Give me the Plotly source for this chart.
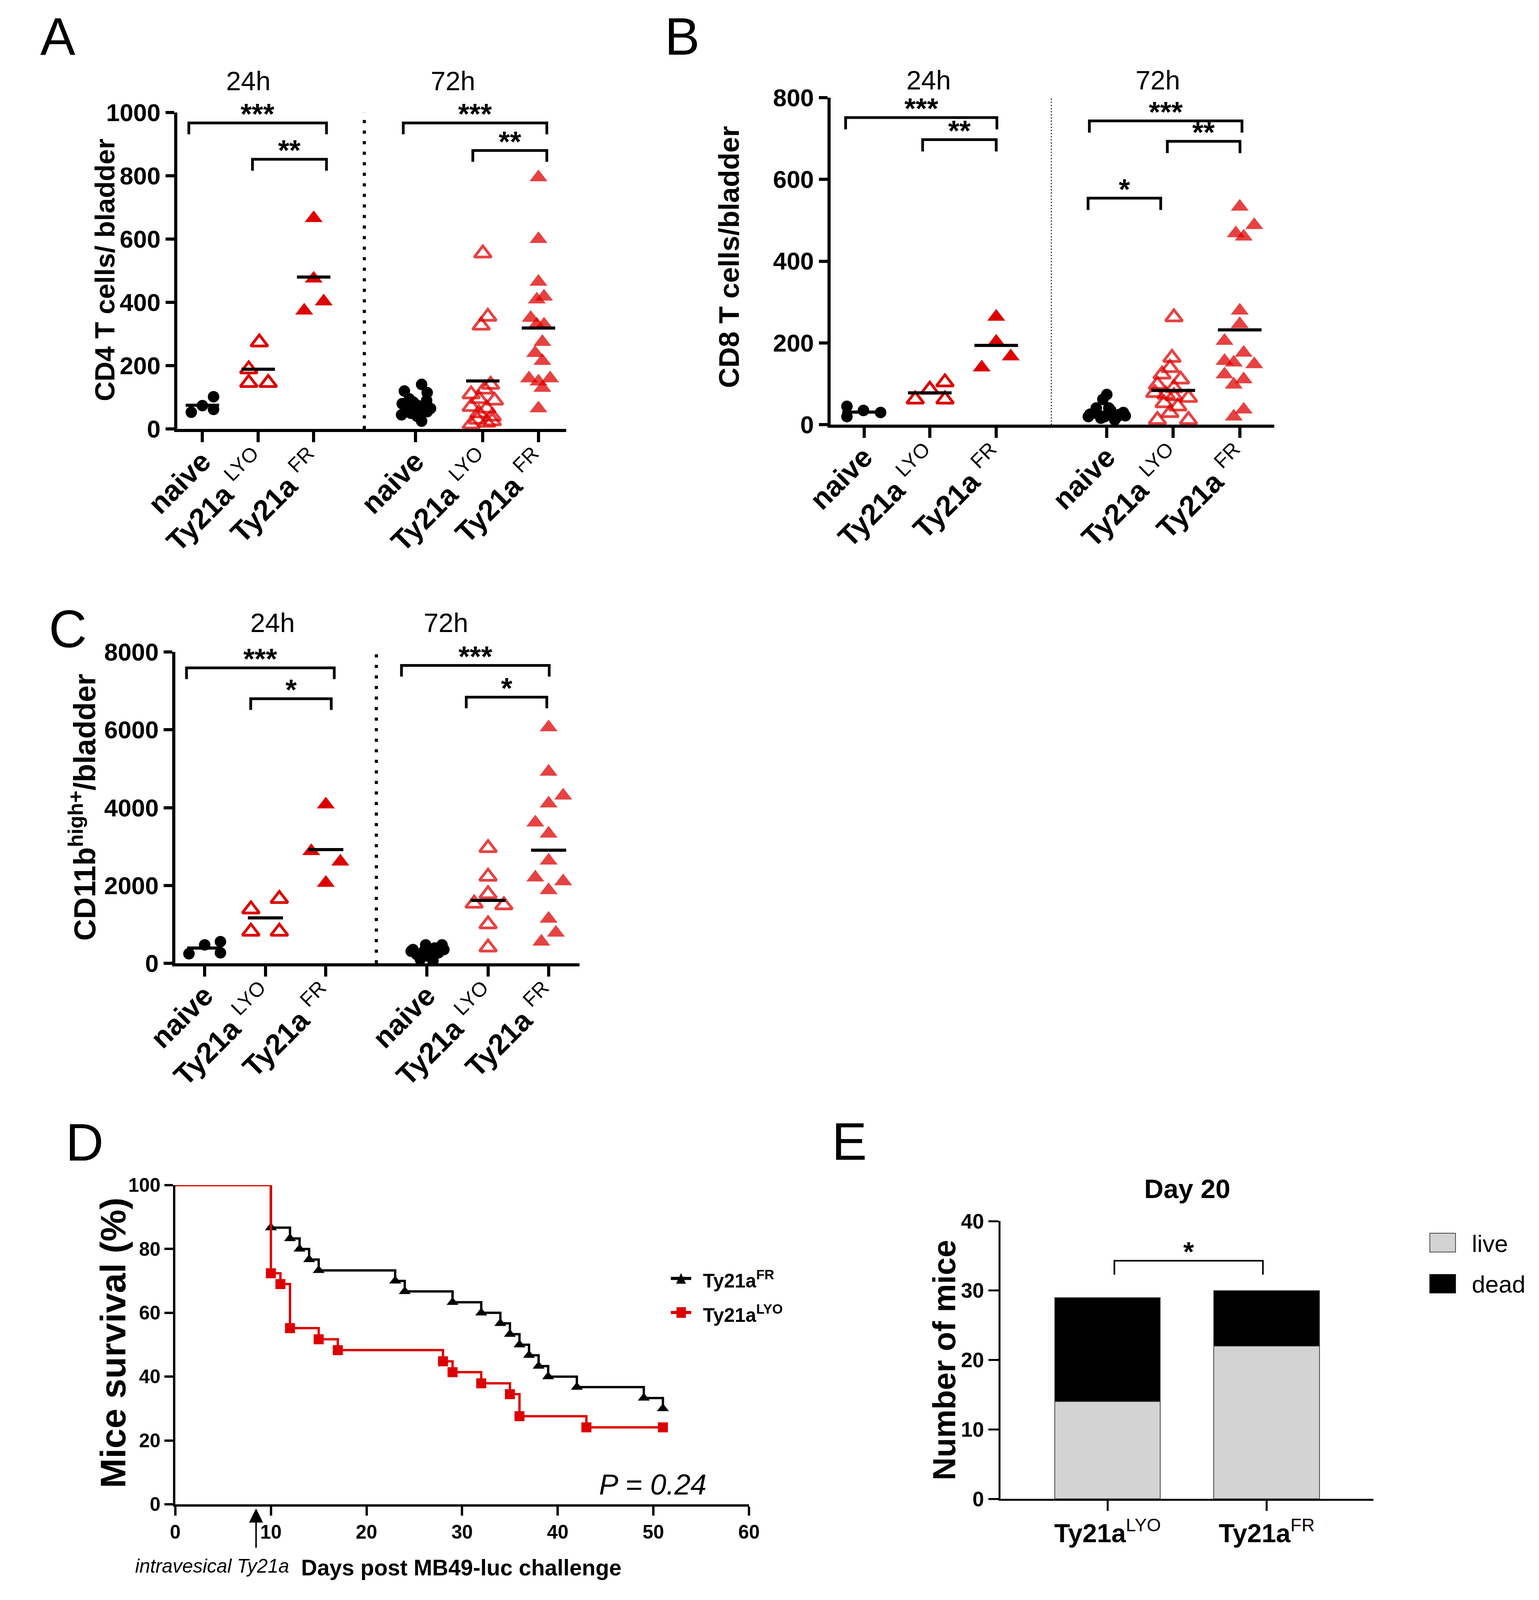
"""Ty21a bladder infiltrate figure, panels A-E.

A-C: dot plots (mean bar + significance brackets) at 24h and 72h,
D: Kaplan-Meier survival, E: live/dead stacked bars at day 20.
Positions are read in reference pixels (3941 x 4404) and turned into paper
fractions; the page itself is sized to fit the 3941 x 4096 viewport it is shot in.
"""

import plotly.graph_objects as go

W, H = 3941, 4404            # reference canvas, used for placing things
FIG_W, FIG_H = 3925, 4080    # actual figure (viewport minus body margin)
SY = FIG_H / H               # vertical pixel lengths
K = 0.95                     # fonts / marker sizes
FONT = "Liberation Sans, Arial, Helvetica, sans-serif"
RED = "#dd0000"
RED_72 = "rgba(221,0,0,0.74)"

# group order in each dot panel: 24h naive, LYO, FR | 72h naive, LYO, FR
DOT_TICKTEXT = ["<b>naive</b>", "<b>Ty21a</b> <sup>LYO</sup>", "<b>Ty21a</b> <sup>FR</sup>"] * 2
TIMEPOINTS = ["24h", "72h"]

# ---- A: CD4 T cells / bladder
A_VALUES = [
    [53, 74, 102, 62],
    [274, 189, 146, 146],
    [666, 475, 374, 403],
    [141, 120, 115, 95, 90, 80, 75, 70, 60, 55, 50, 45, 40, 25, 85, 65],
    [555, 355, 327, 140, 125, 110, 95, 90, 70, 65, 50, 40, 30, 20, 15, 25],
    [795, 600, 465, 418, 409, 351, 330, 330, 275, 240, 215, 160, 160, 150, 130, 65],
]
A_JITTER = [
    [-0.2, 0, 0.2, 0.2],
    [0.02, -0.17, -0.17, 0.18],
    [0, 0, -0.17, 0.18],
    [0.11, -0.2, 0.21, -0.11, 0.2, -0.24, 0.03, 0.13, -0.15, 0.21, -0.08, -0.25, 0.03, 0.11, -0.04, 0.27],
    [0, 0.09, -0.03, 0.14, 0.03, -0.21, -0.07, 0.21, -0.21, 0.07, -0.07, 0.17, -0.1, 0.07, -0.21, 0.17],
    [0, 0, 0, 0.1, -0.03, -0.14, -0.03, 0.1, 0.07, -0.06, 0.07, -0.17, 0.21, 0, 0.07, 0],
]
A_MEANS = [75, 189, 480, 72, 152, 319]
A_SIG = [(0.756, 3.23, 967, "***"), (1.90, 3.23, 852, "**"),
         (4.61, 7.19, 967, "***"), (5.86, 7.19, 880, "**")]

# ---- B: CD8 T cells / bladder
B_VALUES = [
    [45, 20, 35, 30],
    [62, 86, 104, 62],
    [264, 203, 140, 167],
    [74, 62, 41, 29, 25, 22, 20, 16, 12, 35, 41, 30, 20, 26, 20],
    [263, 164, 139, 123, 111, 98, 90, 74, 66, 53, 45, 29, 12, 12, 70, 78],
    [533, 488, 468, 460, 279, 246, 205, 156, 176, 152, 148, 123, 111, 98, 37, 20],
]
B_JITTER = [
    [-0.26, -0.26, -0.01, 0.25],
    [-0.22, 0, 0.23, 0.23],
    [0, 0, -0.22, 0.22],
    [0, -0.06, 0.03, -0.19, 0.19, 0.28, -0.28, -0.09, 0.12, 0.06, -0.16, 0.25, -0.03, -0.25, 0.16],
    [0.01, -0.02, -0.05, -0.17, 0.11, -0.24, 0.01, -0.11, 0.23, -0.14, 0.07, -0.05, -0.24, 0.23, 0.01, -0.28],
    [0, 0.22, -0.06, 0.06, 0, 0, -0.23, -0.23, 0.06, -0.09, 0.22, -0.23, 0.06, -0.09, 0.06, -0.09],
]
B_MEANS = [31, 78, 194, 31, 84, 232]
B_SIG = [(0.72, 3.01, 751, "***"), (1.886, 3.0, 697, "**"),
         (4.41, 6.72, 743, "***"), (5.59, 6.69, 693, "**"), (4.39, 5.49, 554, "*")]

# ---- C: CD11b high+ / bladder
C_VALUES = [
    [245, 473, 555, 269],
    [1388, 1657, 816, 816],
    [4082, 2882, 2612, 2065],
    [351, 473, 392, 473, 228, 188, 269, 106, 65, 351, 310, 310],
    [2963, 2229, 1780, 1535, 1494, 1004, 408],
    [6065, 4922, 4310, 4106, 3616, 3330, 2637, 2204, 2106, 1878, 1143, 784, 555],
]
C_JITTER = [
    [-0.26, 0, 0.26, 0.26],
    [-0.24, 0.23, -0.24, 0.23],
    [0, -0.24, 0.24, 0],
    [-0.23, -0.02, 0.13, 0.25, -0.17, 0.01, 0.19, -0.11, 0.1, 0.28, -0.05, -0.26],
    [0, 0, 0, -0.23, 0.26, 0, 0],
    [0, 0, 0.24, 0, -0.22, 0, 0, -0.22, 0.24, 0, 0, 0.12, -0.12],
]
C_MEANS = [392, 1167, 2922, 327, 1616, 2906]
C_SIG = [(0.70, 3.14, 7592, "***"), (1.76, 3.09, 6800, "*"),
         (4.25, 6.69, 7657, "***"), (5.32, 6.65, 6841, "*")]

# ---- D: survival after MB49-luc challenge
D_FR_DAYS = [10, 12, 13, 14, 15, 23, 24, 29, 32, 34, 35, 36, 37, 38, 39, 42, 49, 51]
D_FR_SURV = [86.7, 83.3, 80.0, 76.7, 73.3, 70.0, 66.7, 63.3, 60.0, 56.7, 53.3,
             50.0, 46.7, 43.3, 40.0, 36.7, 33.3, 30.0]
D_LYO_DAYS = [10, 11, 12, 15, 17, 28, 29, 32, 35, 36, 43, 51]
D_LYO_SURV = [72.4, 69.0, 55.2, 51.7, 48.3, 44.8, 41.4, 37.9, 34.5, 27.6, 24.1, 24.1]
D_TREATMENT_DAY = 8.45
D_PVALUE = "P = 0.24"

# ---- E: day 20 outcome
E_GROUPS = ["<b>Ty21a</b><sup>LYO</sup>", "<b>Ty21a</b><sup>FR</sup>"]
E_LIVE = [14, 22]
E_DEAD = [15, 8]
E_SIG = [(0.043, 0.976, 34.3, "*")]


def fx(px):
    return px / W


def fy(py):
    return 1 - py / H


def fs(size):
    return round(size * K, 1)


def names(i):
    s = "" if i == 1 else str(i)
    return "x" + s, "y" + s, "xaxis" + s, "yaxis" + s


fig = go.Figure()
layout_axes = {}
shapes = []
annotations = []


def text_px(text, x, y, size, xanchor="center", yanchor="middle", angle=0, k=K):
    annotations.append(dict(
        text=text, x=fx(x), y=fy(y), xref="paper", yref="paper", showarrow=False,
        xanchor=xanchor, yanchor=yanchor, textangle=angle,
        font=dict(family=FONT, size=round(size * k, 1), color="black"),
    ))


def ytitle(text, x, y, size):
    # rotated titles run along the squeezed vertical axis
    text_px(text, x, y, size, angle=-90, k=SY)


def brackets(xa, ya, sig, ymax, width, star_size, star_shift):
    drop = 0.036 * ymax
    for x0, x1, yv, stars in sig:
        shapes.append(dict(
            type="path", xref=xa, yref=ya,
            path=f"M{x0},{yv - drop} L{x0},{yv} L{x1},{yv} L{x1},{yv - drop}",
            line=dict(color="black", width=width),
        ))
        annotations.append(dict(
            text=f"<b>{stars}</b>", x=(x0 + x1) / 2, y=yv, xref=xa, yref=ya,
            showarrow=False, yanchor="bottom", yshift=star_shift * SY,
            font=dict(family=FONT, size=fs(star_size), color="black"),
        ))


def group_style(g):
    col = RED if g < 3 else RED_72
    if g % 3 == 0:
        return dict(symbol="circle", size=fs(31), color="black", line=dict(width=0))
    if g % 3 == 1:
        return dict(symbol="triangle-up-open", size=fs(40), color=col, line=dict(width=7, color=col))
    return dict(symbol="triangle-up", size=fs(42), color=col, line=dict(width=0))


def dot_panel(i, box, xrange, pos, ymax, ydtick, values, jitter, means, half, sig,
              sep, sep_dash, sep_width):
    xa, ya, xkey, ykey = names(i)
    left, right, top, bottom = box
    for g, (vals, jit) in enumerate(zip(values, jitter)):
        fig.add_trace(go.Scatter(
            x=[pos[g] + j for j in jit], y=vals, mode="markers",
            marker=group_style(g), xaxis=xa, yaxis=ya, cliponaxis=False, hoverinfo="skip",
        ))
    mx, my = [], []
    for p, m in zip(pos, means):
        mx += [p - half, p + half, None]
        my += [m, m, None]
    fig.add_trace(go.Scatter(x=mx, y=my, mode="lines", line=dict(color="black", width=8),
                             xaxis=xa, yaxis=ya, cliponaxis=False, hoverinfo="skip"))
    shapes.append(dict(type="line", xref=xa, yref=ya, x0=sep, x1=sep, y0=0, y1=ymax,
                       line=dict(color="black", width=sep_width, dash=sep_dash)))
    brackets(xa, ya, sig, ymax, 7, 78, -22)
    layout_axes[xkey] = dict(
        domain=[fx(left), fx(right)], range=xrange, anchor=ya,
        showline=True, linecolor="black", linewidth=8,
        ticks="outside", ticklen=28 * SY, tickwidth=8, tickcolor="black",
        tickvals=pos, ticktext=DOT_TICKTEXT, tickangle=-45, ticklabelstandoff=-24,
        tickfont=dict(family=FONT, size=fs(78), color="black"),
        showgrid=False, zeroline=False,
    )
    layout_axes[ykey] = dict(
        domain=[fy(bottom), fy(top)], range=[0, ymax], anchor=xa,
        showline=True, linecolor="black", linewidth=8,
        ticks="outside", ticklen=22, tickwidth=8, tickcolor="black",
        tick0=0, dtick=ydtick,
        tickfont=dict(family=FONT, size=fs(66), color="black", weight="bold"),
        showgrid=False, zeroline=False,
    )


# A
dot_panel(1, (369, 1400, 269, 1159), [0.546, 7.54], [1, 2.003, 3, 4.83, 6.04, 7.04],
          1000, 200, A_VALUES, A_JITTER, A_MEANS, 0.30, A_SIG, 3.91, "8px,19px", 8)
# B
dot_panel(2, (2100, 3276, 227, 1147), [0.491, 7.21], [1, 1.994, 3, 4.674, 5.68, 6.686],
          800, 200, B_VALUES, B_JITTER, B_MEANS, 0.33, B_SIG, 3.834, "3px,5px", 2.5)
# C
dot_panel(3, (364, 1435, 1786, 2661), [0.514, 7.19], [1, 2.003, 3, 4.67, 5.68, 6.68],
          8000, 2000, C_VALUES, C_JITTER, C_MEANS, 0.29, C_SIG, 3.835, "8px,19px", 8)

for (x24, x72, yy) in [(558, 1100, 180), (2360, 2967, 178), (622, 1081, 1703)]:
    text_px(TIMEPOINTS[0], x24, yy, 72)
    text_px(TIMEPOINTS[1], x72, yy, 72)

ytitle("<b>CD4 T cells/ bladder</b>", 177, 712, 76)
ytitle("<b>CD8 T cells/bladder</b>", 1831, 675, 78)
ytitle("<b>CD11b<sup>high+</sup>/bladder</b>", 118, 2223, 83)

# D: Kaplan-Meier curves
for days, surv, col, sym, msize in [
    (D_FR_DAYS, D_FR_SURV, "black", "triangle-up", 28),
    (D_LYO_DAYS, D_LYO_SURV, RED, "square", 27),
]:
    fig.add_trace(go.Scatter(
        x=[0] + days, y=[100] + surv, mode="lines", line=dict(color=col, width=6, shape="hv"),
        xaxis="x4", yaxis="y4", cliponaxis=False, hoverinfo="skip",
    ))
    fig.add_trace(go.Scatter(
        x=days, y=surv, mode="markers", marker=dict(symbol=sym, size=fs(msize), color=col),
        xaxis="x4", yaxis="y4", cliponaxis=False, hoverinfo="skip",
    ))

layout_axes["xaxis4"] = dict(
    domain=[fx(364), fx(1884)], range=[0, 60], anchor="y4",
    showline=True, linecolor="black", linewidth=6,
    ticks="outside", ticklen=25 * SY, tickwidth=6, tickcolor="black", tick0=0, dtick=10,
    tickfont=dict(family=FONT, size=fs(52), color="black", weight="bold"),
    showgrid=False, zeroline=False,
)
layout_axes["yaxis4"] = dict(
    domain=[fy(4182), fy(3285)], range=[0, 100], anchor="x4",
    showline=True, linecolor="black", linewidth=6,
    ticks="outside", ticklen=22, tickwidth=6, tickcolor="black", tick0=0, dtick=20,
    tickfont=dict(family=FONT, size=fs(52), color="black", weight="bold"),
    showgrid=False, zeroline=False,
)
ytitle("<b>Mice survival (%)</b>", 199, 3728, 99)
text_px("<b>Days post MB49-luc challenge</b>", 1122, 4360, 60)
text_px("<i>intravesical Ty21a</i>", 461, 4355, 52)
text_px(f"<i>{D_PVALUE}</i>", 1629, 4127, 78)
annotations.append(dict(
    text="", x=D_TREATMENT_DAY, y=fy(4194), xref="x4", yref="paper",
    showarrow=True, ax=0, ay=110 * SY, arrowhead=2, arrowsize=1.8, arrowwidth=4, arrowcolor="black",
))

# D legend (drawn by hand so the glyphs keep the reference size)
for ycen, col, glyph in [(3547, "black", "tri"), (3643, RED, "sq")]:
    shapes.append(dict(type="line", xref="paper", yref="paper", x0=fx(1677), x1=fx(1731),
                       y0=fy(ycen), y1=fy(ycen), line=dict(color=col, width=8)))
    if glyph == "tri":
        shapes.append(dict(
            type="path", xref="paper", yref="paper", fillcolor=col, line=dict(width=0),
            path=f"M{fx(1691)},{fy(ycen + 15)} L{fx(1717)},{fy(ycen + 15)} L{fx(1704)},{fy(ycen - 15)} Z",
        ))
    else:
        shapes.append(dict(type="rect", xref="paper", yref="paper", fillcolor=col, line=dict(width=0),
                           x0=fx(1692), x1=fx(1717), y0=fy(ycen + 15), y1=fy(ycen - 15)))
text_px("<b>Ty21a<sup>FR</sup></b>", 1760, 3550, 52, xanchor="left")
text_px("<b>Ty21a<sup>LYO</sup></b>", 1760, 3646, 52, xanchor="left")

# E: stacked bars
fig.add_trace(go.Bar(x=[0, 1], y=E_LIVE, width=0.664, xaxis="x5", yaxis="y5",
                     marker=dict(color="#d3d3d3", line=dict(color="#444444", width=2)), hoverinfo="skip"))
fig.add_trace(go.Bar(x=[0, 1], y=E_DEAD, width=0.664, xaxis="x5", yaxis="y5",
                     marker=dict(color="black", line=dict(color="#444444", width=2)), hoverinfo="skip"))
layout_axes["xaxis5"] = dict(
    domain=[fx(2550), fx(3539)], range=[-0.673, 1.671], anchor="y5",
    showline=True, linecolor="black", linewidth=5,
    ticks="outside", ticklen=28 * SY, tickwidth=5, tickcolor="black",
    tickvals=[0, 1], ticktext=E_GROUPS,
    tickfont=dict(family=FONT, size=fs(70), color="black"),
    showgrid=False, zeroline=False,
)
layout_axes["yaxis5"] = dict(
    domain=[fy(4167), fy(3386)], range=[0, 40], anchor="x5",
    showline=True, linecolor="black", linewidth=5,
    ticks="outside", ticklen=26, tickwidth=5, tickcolor="black", tick0=0, dtick=10,
    tickfont=dict(family=FONT, size=fs(56), color="black", weight="bold"),
    showgrid=False, zeroline=False,
)
brackets("x5", "y5", E_SIG, 40 * 1.4, 4, 74, -20)
text_px("<b>Day 20</b>", 3045, 3295, 72)
ytitle("<b>Number of mice</b>", 2400, 3777, 88)
shapes.append(dict(type="rect", xref="paper", yref="paper", fillcolor="#d3d3d3",
                   line=dict(color="#444444", width=2), x0=fx(3688), x1=fx(3756), y0=fy(3473), y1=fy(3420)))
shapes.append(dict(type="rect", xref="paper", yref="paper", fillcolor="black",
                   line=dict(color="black", width=2), x0=fx(3688), x1=fx(3756), y0=fy(3588), y1=fy(3536)))
text_px("live", 3797, 3449, 65, xanchor="left")
text_px("dead", 3797, 3563, 65, xanchor="left")

# panel letters
for letter, x, y in [("A", 53, 56), ("B", 1707, 56), ("C", 79, 1722), ("D", 124, 3165), ("E", 2150, 3162)]:
    text_px(letter, x, y, 142)

fig.update_layout(
    width=FIG_W, height=FIG_H, margin=dict(l=0, r=0, t=0, b=0),
    paper_bgcolor="white", plot_bgcolor="white",
    showlegend=False, barmode="stack",
    font=dict(family=FONT, color="black"),
    shapes=shapes, annotations=annotations,
    **layout_axes,
)
fig.write_html("out.html")
